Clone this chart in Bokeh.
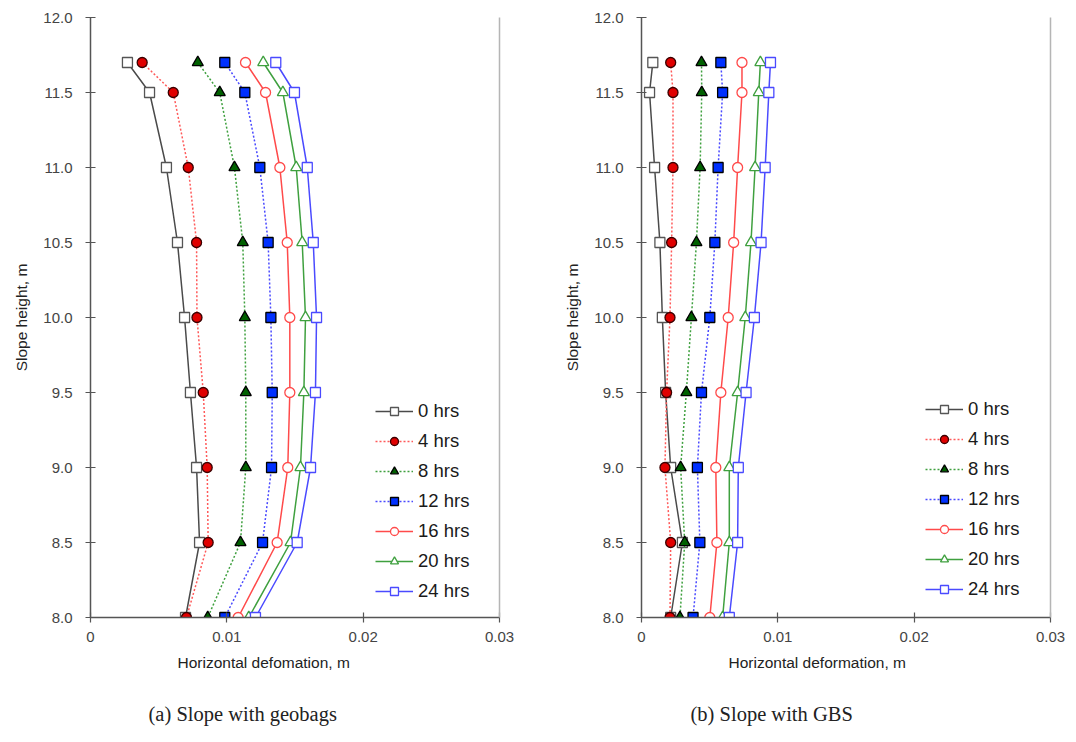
from bokeh.plotting import figure
from bokeh.layouts import row
from bokeh.models import (LinearAxis, FixedTicker, NumeralTickFormatter, Legend,
                          LegendItem, Title, Range1d)
from bokeh.embed import file_html
from bokeh.resources import INLINE

heights = [11.7, 11.5, 11.0, 10.5, 10.0, 9.5, 9.0, 8.5, 8.0]
series_labels = ["0 hrs", "4 hrs", "8 hrs", "12 hrs", "16 hrs", "20 hrs", "24 hrs"]

# (a) Slope with geobags
geo_0 = [0.00271, 0.00433, 0.00557, 0.00638, 0.00690, 0.00733, 0.00778, 0.00800, 0.00697]
geo_4 = [0.00379, 0.00607, 0.00717, 0.00778, 0.00781, 0.00827, 0.00856, 0.00863, 0.00704]
geo_8 = [0.00787, 0.00948, 0.01056, 0.01117, 0.01132, 0.01139, 0.01139, 0.01100, 0.00860]
geo_12 = [0.00985, 0.01132, 0.01242, 0.01303, 0.01323, 0.01333, 0.01328, 0.01262, 0.00985]
geo_16 = [0.01137, 0.01284, 0.01389, 0.01443, 0.01462, 0.01462, 0.01447, 0.01369, 0.01083]
geo_20 = [0.01267, 0.01411, 0.01509, 0.01553, 0.01577, 0.01565, 0.01540, 0.01467, 0.01161]
geo_24 = [0.01359, 0.01496, 0.01590, 0.01634, 0.01658, 0.01650, 0.01614, 0.01516, 0.01210]

# (b) Slope with GBS
gbs_0 = [0.00083, 0.00059, 0.00096, 0.00135, 0.00153, 0.00177, 0.00214, 0.00300, 0.00214]
gbs_4 = [0.00214, 0.00231, 0.00231, 0.00221, 0.00209, 0.00184, 0.00172, 0.00214, 0.00209]
gbs_8 = [0.00440, 0.00442, 0.00430, 0.00403, 0.00366, 0.00329, 0.00287, 0.00317, 0.00282]
gbs_12 = [0.00582, 0.00595, 0.00562, 0.00538, 0.00501, 0.00440, 0.00410, 0.00428, 0.00378]
gbs_16 = [0.00737, 0.00737, 0.00705, 0.00676, 0.00636, 0.00582, 0.00545, 0.00553, 0.00501]
gbs_20 = [0.00872, 0.00860, 0.00833, 0.00803, 0.00761, 0.00705, 0.00644, 0.00644, 0.00595]
gbs_24 = [0.00946, 0.00934, 0.00907, 0.00877, 0.00828, 0.00767, 0.00710, 0.00705, 0.00644]

x_ticks = [0, 0.01, 0.02, 0.03]
y_ticks = [8.0, 8.5, 9.0, 9.5, 10.0, 10.5, 11.0, 11.5, 12.0]

styles = [
    dict(lc="#4a4a4a", dash="solid", marker="square", fill="white", edge="#555555"),
    dict(lc="#ff5a5a", dash="2 2", marker="circle", fill="#e00000", edge="#3a0000"),
    dict(lc="#3fa03f", dash="2 2", marker="triangle", fill="#006000", edge="#000000"),
    dict(lc="#4a4aff", dash="2 2", marker="square", fill="#0030ff", edge="#000000"),
    dict(lc="#ff4a4a", dash="solid", marker="circle", fill="white", edge="#ff4a4a"),
    dict(lc="#3fa03f", dash="solid", marker="triangle", fill="white", edge="#3fa03f"),
    dict(lc="#4a4aff", dash="solid", marker="square", fill="white", edge="#4a4aff"),
]

FONT = "Liberation Sans"


def make_panel(series, width, bl, br, xlabel, xlabel_off, caption, caption_off, leg_loc):
    p = figure(width=width, height=742, output_backend="svg", toolbar_location=None,
               x_range=Range1d(0, 0.03), y_range=Range1d(8.0, 12.0),
               min_border_left=bl, min_border_right=br, min_border_top=17,
               min_border_bottom=125)
    p.grid.visible = False
    p.outline_line_color = None
    p.background_fill_color = "white"
    p.border_fill_color = "white"

    for ax in (p.xaxis[0], p.yaxis[0]):
        ax.axis_line_color = "#555555"
        ax.axis_line_width = 1.5
        ax.major_tick_line_color = "#555555"
        ax.major_tick_line_width = 1.2
        ax.major_tick_in = 5
        ax.major_tick_out = 5
        ax.minor_tick_line_color = None
        ax.major_label_text_font = FONT
        ax.major_label_text_font_size = "15px"
        ax.major_label_text_color = "#444444"
    p.xaxis.ticker = FixedTicker(ticks=x_ticks)
    p.xaxis.formatter = NumeralTickFormatter(format="0.[00]")
    p.xaxis.major_label_standoff = 9
    p.yaxis.ticker = FixedTicker(ticks=y_ticks)
    p.yaxis.formatter = NumeralTickFormatter(format="0.0")
    p.yaxis.major_label_standoff = 13
    p.yaxis.axis_label = "Slope height, m"
    p.yaxis.axis_label_text_font = FONT
    p.yaxis.axis_label_text_font_size = "15.5px"
    p.yaxis.axis_label_text_font_style = "normal"
    p.yaxis.axis_label_text_color = "#222222"
    p.yaxis.axis_label_standoff = 10

    right = LinearAxis(axis_line_color="#b5b5b5", axis_line_width=1.5,
                       major_tick_line_color=None, minor_tick_line_color=None,
                       major_label_text_font_size="0px", ticker=FixedTicker(ticks=[]))
    p.add_layout(right, "right")

    items = []
    for lab, xs, st in zip(series_labels, series, styles):
        ln = p.line(xs, heights, line_color=st["lc"], line_width=1.5, line_dash=st["dash"])
        sc = p.scatter(xs, heights, marker=st["marker"], size=10 if st["marker"] != "triangle" else 11,
                       fill_color=st["fill"], line_color=st["edge"], line_width=1.3)
        items.append(LegendItem(label=lab, renderers=[ln, sc]))

    legend = Legend(items=items, location=leg_loc, border_line_color=None,
                    background_fill_alpha=0, label_text_font=FONT,
                    label_text_font_size="18.5px", label_text_color="#1a1a1a",
                    glyph_width=38, glyph_height=20, label_height=20, spacing=8,
                    padding=5, margin=0, label_standoff=5)
    p.add_layout(legend, "center")

    t1 = Title(text=xlabel, align="left", offset=xlabel_off, text_font=FONT,
               text_font_size="15.5px", text_font_style="normal", text_color="#222222",
               standoff=14)
    p.add_layout(t1, "below")
    spacer = Title(text=" ", text_font_size="16px", standoff=2)
    p.add_layout(spacer, "below")
    t2 = Title(text=caption, align="left", offset=caption_off, text_font="Liberation Serif",
               text_font_size="20.5px", text_font_style="normal", text_color="#222222",
               standoff=4)
    p.add_layout(t2, "below")
    return p


p1 = make_panel([geo_0, geo_4, geo_8, geo_12, geo_16, geo_20, geo_24], 540, 90, 41,
                "Horizontal defomation, m", 87, "(a) Slope with geobags", 58, (285, 15))
p2 = make_panel([gbs_0, gbs_4, gbs_8, gbs_12, gbs_16, gbs_20, gbs_24], 530, 101, 20,
                "Horizontal deformation, m", 87, "(b) Slope with GBS", 49, (284, 17))

layout = row(p1, p2)
open("out.html", "w").write(file_html(layout, INLINE))
